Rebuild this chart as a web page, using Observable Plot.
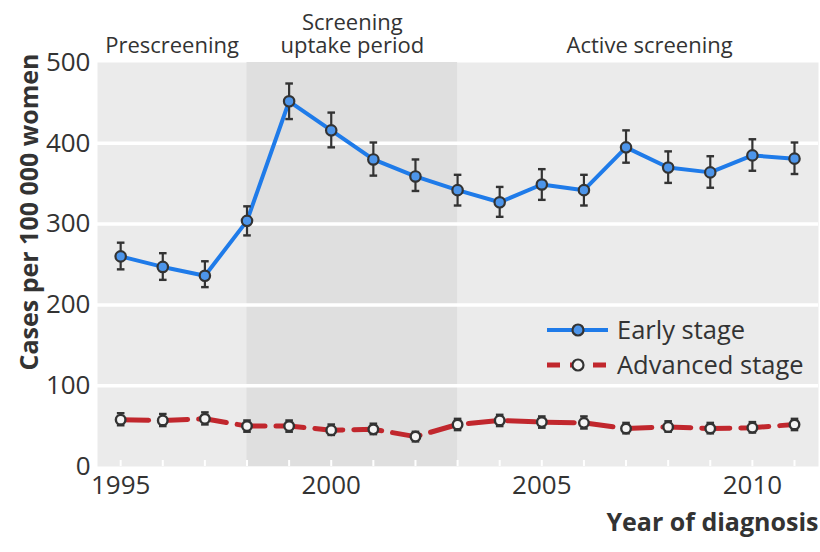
<!DOCTYPE html>
<html><head><meta charset="utf-8">
<script src="https://cdn.jsdelivr.net/npm/d3@7"></script>
<script src="https://cdn.jsdelivr.net/npm/@observablehq/plot@0.6"></script>
<style>
body{margin:0;background:#fff;}
#chart{width:820px;height:552px;}
</style></head><body><div id="chart"></div>
<script>
const years = [1995,1996,1997,1998,1999,2000,2001,2002,2003,2004,2005,2006,2007,2008,2009,2010,2011];
const earlyRate = [260,247,236,304,452,416,380,359,342,327,349,342,395,370,364,385,381];
const earlyLow  = [244,231,222,286,430,395,360,341,323,309,330,323,376,351,345,366,362];
const earlyHigh = [277,264,254,322,474,438,401,380,361,346,368,361,416,390,384,405,401];
const advancedRate = [58,57,59,50,50,45,46,37,52,57,55,54,47,49,47,48,52];
const advancedLow  = [51,50,52,43,43,39,40,31,45,50,48,47,41,43,41,42,45];
const advancedHigh = [66,65,67,57,57,52,53,43,59,64,62,62,54,56,54,55,59];
const uptakeStart = [1998];
const uptakeEnd = [2003];
const periodNames = ["Prescreening", "Screening", "uptake period", "Active screening"];
const periodCenters = [1996.22, 2000.5, 2000.5, 2007.56];
const periodLineOffsets = [-10, -33, -10, -10];
const yTicks = [0,100,200,300,400,500];
const gridValues = [100,200,300,400];
const xLabelTicks = [1995,2000,2005,2010];
const seriesNames = ["Early stage","Advanced stage"];

const early = years.map((y,i)=>({year:y, rate:earlyRate[i], lo:earlyLow[i], hi:earlyHigh[i]}));
const advanced = years.map((y,i)=>({year:y, rate:advancedRate[i], lo:advancedLow[i], hi:advancedHigh[i]}));

const blue = "#1f7be9", blueFill = "#4d95ea", red = "#c1272d", ink = "#333333";
const cap = {draw(ctx){ ctx.moveTo(-3.8,0); ctx.lineTo(3.8,0); }};

function errorMarks(data){
  return [
    Plot.ruleX(data, {x:"year", y1:"lo", y2:"hi", stroke:ink, strokeWidth:2.2}),
    Plot.dot(data, {x:"year", y:"lo", symbol:cap, stroke:ink, strokeWidth:2.4, fill:"none"}),
    Plot.dot(data, {x:"year", y:"hi", symbol:cap, stroke:ink, strokeWidth:2.4, fill:"none"})
  ];
}

const periodMarks = periodNames.map((name, i) =>
  Plot.text([name], {x: () => periodCenters[i], text: d=>d, frameAnchor: "top", lineAnchor: "bottom", dy: periodLineOffsets[i], fontSize: 22, fill: ink})
);

const plot = Plot.plot({
  width: 820, height: 552,
  marginLeft: 97, marginRight: 2, marginTop: 62, marginBottom: 86,
  style: {fontFamily: "'Open Sans', sans-serif", fontSize: "22px", color: ink, background: "#fff"},
  x: {domain: [1994.45, 2011.57]},
  y: {domain: [0, 500]},
  marks: [
    Plot.frame({fill: "#ebebeb", stroke: null}),
    Plot.rect(uptakeStart, {x1: d=>d, x2: (d,i)=>uptakeEnd[i], fill: "#dfdfdf"}),
    Plot.ruleY(gridValues, {stroke: "#fff", strokeWidth: 3.5}),
    Plot.axisX({ticks: years, tickSize: 6, dy: -6, stroke: "#fff", strokeWidth: 2, tickFormat: () => "", label: null}),
    Plot.axisX({ticks: xLabelTicks, tickSize: 0, tickPadding: 9, tickFormat: d=>String(d), fontSize: 26, label: null}),
    Plot.axisY({ticks: yTicks, tickSize: 0, tickPadding: 7, fontSize: 26, label: null}),
    ...periodMarks,
    Plot.text(["Cases per 100 000 women"], {frameAnchor: "top-left", rotate: -90, textAnchor: "end", dx: -77, dy: -9, fontWeight: "bold", fontSize: 25, fill: ink}),
    Plot.text(["Year of diagnosis"], {frameAnchor: "bottom-right", textAnchor: "end", dy: 64, fontWeight: "bold", fontSize: 25, fill: ink}),
    Plot.line(advanced, {x:"year", y:"rate", stroke: red, strokeWidth: 5, strokeDasharray: "28,11"}),
    ...errorMarks(advanced),
    Plot.dot(advanced, {x:"year", y:"rate", r: 4.8, fill: "#f4f4f4", stroke: ink, strokeWidth: 2.4}),
    Plot.line(early, {x:"year", y:"rate", stroke: blue, strokeWidth: 4}),
    ...errorMarks(early),
    Plot.dot(early, {x:"year", y:"rate", r: 5.2, fill: blueFill, stroke: ink, strokeWidth: 2.2})
  ]
});
document.getElementById("chart").appendChild(plot);

// legend overlay inside the panel
const svg = d3.select(plot);
const lg = svg.append("g").attr("font-family", "'Open Sans', sans-serif").attr("text-anchor", "start");
const rows = [
  {name: seriesNames[0], y: 330, stroke: blue, dash: null, fill: blueFill, w: 4},
  {name: seriesNames[1], y: 365, stroke: red, dash: "13,10", fill: "#f4f4f4", w: 5}
];
rows.forEach(r => {
  lg.append("line").attr("x1", 547).attr("x2", 608).attr("y1", r.y).attr("y2", r.y)
    .attr("stroke", r.stroke).attr("stroke-width", r.w).attr("stroke-dasharray", r.dash);
  lg.append("circle").attr("cx", 578).attr("cy", r.y).attr("r", 5.5)
    .attr("fill", r.fill).attr("stroke", ink).attr("stroke-width", 2.2);
  lg.append("text").attr("x", 617).attr("y", r.y).attr("dy", "0.35em").attr("text-anchor", "start")
    .attr("font-size", 25.5).attr("fill", ink).text(r.name);
});
</script></body></html>
